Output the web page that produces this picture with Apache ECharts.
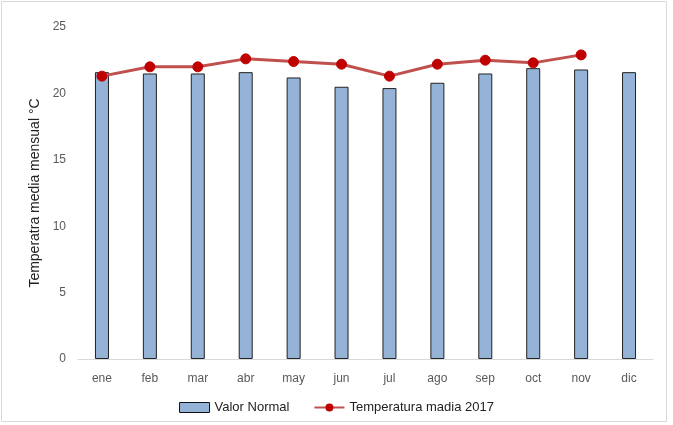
<!DOCTYPE html>
<html><head><meta charset="utf-8">
<script src="https://cdn.jsdelivr.net/npm/echarts@6/dist/echarts.min.js"></script>
<style>html,body{margin:0;padding:0;background:#fff}#c{width:673px;height:425px}</style>
</head><body><div id="c"></div>
<script>
var categories = ['ene','feb','mar','abr','may','jun','jul','ago','sep','oct','nov','dic'];
var valorNormal = [21.6,21.5,21.5,21.6,21.2,20.5,20.4,20.8,21.5,21.9,21.8,21.6];
var temp2017 = [21.3,22.0,22.0,22.6,22.4,22.2,21.3,22.2,22.5,22.3,22.9,null];
var yTicks = [0,5,10,15,20,25];
var chart = echarts.init(document.getElementById('c'));
var font = 'Liberation Sans, Arial, sans-serif';
chart.setOption({
  animation:false,
  graphic:[{type:'rect',shape:{x:1.5,y:1.5,width:665,height:420},style:{fill:'none',stroke:'#d9d9d9',lineWidth:1},silent:true}],
  grid:{left:78,right:20,top:27,bottom:66},
  legend:{bottom:6,left:'center',itemGap:24,textStyle:{fontFamily:font,fontSize:13,color:'#222'},
    data:[{name:'Valor Normal',icon:'rect',itemStyle:{color:'#95B3D7',borderColor:'#111',borderWidth:1}},
          {name:'Temperatura madia 2017'}],
    itemWidth:30,itemHeight:10},
  xAxis:{type:'category',data:categories,axisTick:{show:false},
    axisLine:{lineStyle:{color:'#d9d9d9'}},
    axisLabel:{color:'#595959',fontFamily:font,fontSize:12,margin:14}},
  yAxis:{type:'value',min:yTicks[0],max:yTicks[yTicks.length-1],interval:5,
    name:'Temperatra media mensual °C',nameLocation:'middle',nameGap:32,nameRotate:90,
    nameTextStyle:{color:'#222',fontFamily:font,fontSize:14},
    splitLine:{show:false},axisLine:{show:false},axisTick:{show:false},
    axisLabel:{color:'#595959',fontFamily:font,fontSize:12,margin:12}},
  series:[
    {name:'Valor Normal',type:'bar',data:valorNormal,barWidth:14,
     itemStyle:{color:'#95B3D7',borderColor:'#222',borderWidth:1}},
    {name:'Temperatura madia 2017',type:'line',data:temp2017,symbol:'circle',symbolSize:10,
     lineStyle:{color:'#C0504D',width:3},
     itemStyle:{color:'#C00000',borderColor:'#C00000'}}
  ]
});
</script></body></html>
